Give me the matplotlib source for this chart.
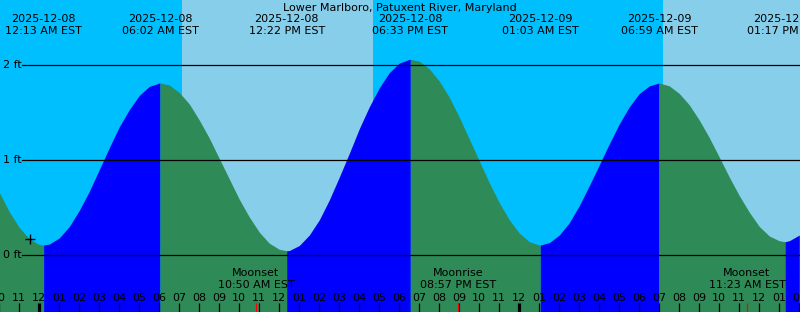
import matplotlib
matplotlib.use('Agg')
import matplotlib.pyplot as plt
import matplotlib.transforms as mtransforms
import numpy as np

# hours are counted from 2025-12-08 00:00 EST
title = 'Lower Marlboro, Patuxent River, Maryland'

# high / low tide extremes
ext_hours = [0.217, 6.033, 12.367, 18.55, 25.05, 30.983, 37.283]
ext_ft = [0.105, 1.81, 0.045, 2.06, 0.105, 1.81, 0.14]
ext_dates = ['2025-12-08', '2025-12-08', '2025-12-08', '2025-12-08',
             '2025-12-09', '2025-12-09', '2025-12-09']
ext_times = ['12:13 AM EST', '06:02 AM EST', '12:22 PM EST', '06:33 PM EST',
             '01:03 AM EST', '06:59 AM EST', '01:17 PM EST']

# tide height read every half hour, from -2 h to 38 h
half_hours = [i / 2 for i in range(-4, 77)]
half_ft = [0.66, 0.455, 0.29, 0.17,                                  # -2 .. -0.5
           0.11, 0.115, 0.18, 0.30, 0.47, 0.67, 0.90, 1.13,          # 0 .. 3.5
           1.35, 1.53, 1.68, 1.775, 1.81, 1.79, 1.71, 1.59,          # 4 .. 7.5
           1.42, 1.23, 1.015, 0.80, 0.586, 0.40, 0.24, 0.124,        # 8 .. 11.5
           0.06, 0.047, 0.10, 0.21, 0.37, 0.58, 0.82, 1.07,          # 12 .. 15.5
           1.33, 1.56, 1.76, 1.92, 2.02, 2.059, 2.04, 1.96,          # 16 .. 19.5
           1.83, 1.66, 1.45, 1.22, 0.99, 0.76, 0.55, 0.37,           # 20 .. 23.5
           0.23, 0.14, 0.105, 0.13, 0.21, 0.34, 0.52, 0.73,          # 24 .. 27.5
           0.95, 1.17, 1.38, 1.56, 1.70, 1.78, 1.81, 1.78,           # 28 .. 31.5
           1.70, 1.58, 1.42, 1.235, 1.03, 0.82, 0.625, 0.45,         # 32 .. 35.5
           0.30, 0.20, 0.15, 0.15, 0.21]                             # 36 .. 38

tick_hours = list(range(-2, 39))

# sunrise / sunset
sunrise = [7.135, 31.185]
sunset = [16.67]

# moon events
moon_hours = [10.833, 20.95, 35.383]
moon_names = ['Moonset', 'Moonrise', 'Moonset']
moon_times = ['10:50 AM EST', '08:57 PM EST', '11:23 AM EST']

x_min, x_max = -1.965, 38.035
y_min, y_max = -0.6, 2.684

night_col = '#00BFFF'
day_col = '#87CEEB'
rise_col = '#0000FF'
fall_col = '#2E8B57'

fig = plt.figure(figsize=(8, 3.12), dpi=100)
ax = fig.add_axes([0, 0, 1, 1])
ax.set_xlim(x_min, x_max)
ax.set_ylim(y_min, y_max)
ax.axis('off')

# day / night background
ax.axvspan(x_min, sunrise[0], color=night_col, lw=0)
ax.axvspan(sunrise[0], sunset[0], color=day_col, lw=0)
ax.axvspan(sunset[0], sunrise[1], color=night_col, lw=0)
ax.axvspan(sunrise[1], x_max, color=day_col, lw=0)

# tide curve: merge half-hour readings and extremes
t = np.array(half_hours + ext_hours, dtype=float)
h = np.array(half_ft + ext_ft, dtype=float)
order = np.argsort(t)
t, h = t[order], h[order]

bounds = [-np.inf] + ext_hours + [np.inf]
for i in range(len(bounds) - 1):
    a, b = bounds[i], bounds[i + 1]
    m = (t >= a) & (t <= b)
    if i < len(ext_hours):
        rising = ext_ft[i] > (ext_ft[i - 1] if i > 0 else ext_ft[i + 1])
    else:
        rising = ext_ft[-1] < ext_ft[-2]
    ax.fill_between(t[m], y_min, h[m], color=rise_col if rising else fall_col,
                    lw=0, antialiased=False)

# height grid lines
for lev in [0, 1, 2]:
    ax.axhline(lev, xmin=22 / 800, xmax=1, color='black', lw=0.9)
    ax.text(x_min + 3 / 20, lev, f'{lev} ft', fontsize=8, ha='left', va='center')

# current-time marker
ax.plot([-0.465], [0.168], marker='+', color='black', ms=7, mew=1)

trans = mtransforms.blended_transform_factory(ax.transData, ax.transAxes)

# extreme labels at the top
for x, d, tm in zip(ext_hours, ext_dates, ext_times):
    ax.text(x, 1 - 19 / 312, d, transform=trans, fontsize=8, ha='center', va='center')
    ax.text(x, 1 - 31 / 312, tm, transform=trans, fontsize=8, ha='center', va='center')

ax.text(0.5, 1 - 8 / 312, title, transform=ax.transAxes, fontsize=8,
        ha='center', va='center')

# hour ticks and labels
for hr in tick_hours:
    hod = hr % 24
    lab = '%02d' % (((hod - 1) % 12) + 1)
    ax.text(hr, 1 - 298 / 312, lab, transform=trans, fontsize=8,
            ha='center', va='center')
    lw = 2.3 if hod == 0 else 0.9
    ax.plot([hr, hr], [0, 9 / 312], transform=trans, color='black', lw=lw,
            solid_capstyle='butt')

# moon events
for x, n, tm in zip(moon_hours, moon_names, moon_times):
    ax.plot([x, x], [0, 9 / 312], transform=trans, color='red', lw=0.9,
            solid_capstyle='butt')
    ax.text(x, 1 - 273 / 312, n, transform=trans, fontsize=8, ha='center', va='center')
    ax.text(x, 1 - 285 / 312, tm, transform=trans, fontsize=8, ha='center', va='center')

fig.savefig('out.png', dpi=100)
